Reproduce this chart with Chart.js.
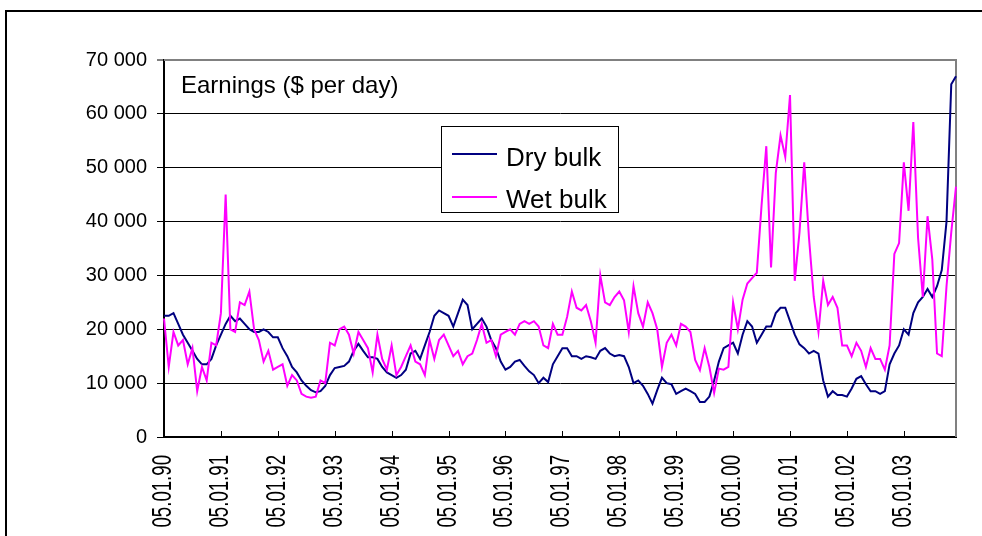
<!DOCTYPE html>
<html>
<head>
<meta charset="utf-8">
<script src="https://cdn.jsdelivr.net/npm/chart.js@4"></script>
<style>
  body { margin: 0; background: #fff; overflow: hidden; font-family: "Liberation Sans", Arial, sans-serif; }
  #wrap { position: relative; width: 982px; height: 536px; }
  #frame { position: absolute; left: 5px; top: 10px; width: 1100px; height: 700px; border-left: 2px solid #000; border-top: 2px solid #000; }
  #mycanvas { position: absolute; left: 0; top: 0; }
  .txt { position: absolute; white-space: nowrap; color: #000; }
  #legend { position: absolute; left: 441px; top: 126px; width: 176px; height: 85px; border: 1px solid #000; background: #fff; }
  .swatch { position: absolute; height: 2px; width: 45px; }
</style>
</head>
<body>
<div id="wrap">
  <div id="frame"></div>
  <canvas id="mycanvas" width="982" height="536"></canvas>
  <div class="txt" style="left:181px; top:73px; font-size:24px; line-height:24px;">Earnings ($ per day)</div>
  <div id="legend">
    <div class="swatch" style="left:10px; top:26px; background:#000080;"></div>
    <div class="txt" style="left:64px; top:17px; font-size:26px; line-height:26px;">Dry bulk</div>
    <div class="swatch" style="left:10px; top:69px; background:#ff00ff;"></div>
    <div class="txt" style="left:64px; top:59px; font-size:26px; line-height:26px;">Wet bulk</div>
  </div>
</div>
<script>
// Jahres-Beschriftung der x-Achse
var yearLabels = ['05.01.90', '05.01.91', '05.01.92', '05.01.93', '05.01.94', '05.01.95', '05.01.96',
                  '05.01.97', '05.01.98', '05.01.99', '05.01.00', '05.01.01', '05.01.02', '05.01.03'];

// Monatswerte, $ pro Tag
var dryBulk = [
    22500, 22500, 23000, 21000, 19000, 17500, 16000, 14500, 13500, 13500, 14500, 17000,
    19000, 21000, 22500, 21500, 22000, 21000, 20000, 19500, 19500, 20000, 19500, 18500,
    18500, 16500, 15000, 13000, 12000, 10500, 9500, 8700, 8300, 8500, 9500, 11500,
    12800, 13000, 13200, 14000, 16000, 17300, 16000, 14800, 14800, 14500, 13000, 12000,
    11500, 11000, 11500, 12500, 15500, 16000, 14500, 17000, 19500, 22500, 23500, 23000,
    22500, 20500, 23000, 25500, 24500, 20000, 21000, 22000, 20500, 18000, 16500, 14000,
    12500, 13000, 14000, 14300, 13200, 12200, 11500, 10000, 11000, 10200, 13500, 15000,
    16500, 16500, 15000, 15000, 14500, 15000, 14800, 14500, 16000, 16500, 15500, 15000,
    15200, 15000, 13000, 10000, 10500, 9500, 8000, 6200, 8700, 11000, 10000, 9800,
    8000, 8500, 9000, 8500, 8000, 6500, 6500, 7500, 10500, 14000, 16500, 17000,
    17500, 15500, 19000, 21500, 20500, 17500, 19000, 20500, 20500, 23000, 24000, 24000,
    21500, 19000, 17200, 16500, 15500, 16000, 15500, 10500, 7500, 8500, 7800, 7800,
    7500, 9000, 10800, 11300, 9800, 8500, 8500, 8000, 8500, 13500, 15500, 17000,
    20000, 19000, 23000, 25000, 26000, 27500, 26000, 28000, 31000, 40000, 65500, 67000
];

var wetBulk = [
    22000, 13000, 19500, 17000, 18000, 13500, 16500, 8500, 13000, 10500, 17500, 17000,
    23000, 45000, 20000, 19500, 25000, 24500, 27000, 20000, 18000, 14000, 16000, 12500,
    13000, 13500, 9500, 11500, 10500, 8000, 7500, 7300, 7500, 10500, 10000, 17500,
    17000, 20000, 20500, 19000, 15500, 19500, 18000, 16500, 12000, 19000, 14500, 12500,
    17000, 11500, 13000, 15000, 17000, 14000, 13500, 11500, 18000, 14500, 18000, 19000,
    17000, 15000, 16000, 13500, 15000, 15500, 18000, 21000, 17500, 18000, 15000, 19000,
    19500, 20000, 19000, 21000, 21500, 21000, 21500, 20500, 17000, 16500, 21000, 19000,
    19000, 22300, 27000, 24000, 23500, 24500, 21500, 17500, 30000, 25000, 24500, 26000,
    27000, 25400, 19500, 28000, 23000, 20500, 25000, 23000, 20000, 13000, 17500, 19000,
    17000, 21000, 20500, 19500, 14300, 12400, 16500, 13000, 8200, 12700, 12500, 13000,
    25000, 20000, 25500, 28500, 29500, 30500, 43000, 54000, 31500, 49000, 56000, 52000,
    63500, 29000, 38000, 51000, 37000, 26000, 19500, 29000, 24500, 26000, 24000, 17000,
    17000, 15000, 17500, 16000, 13000, 16500, 14500, 14500, 12500, 17000, 34000, 36000,
    51000, 42000, 58500, 37000, 26000, 41000, 33000, 15500, 15000, 28000, 38000, 46500
];

// Kategorien: ein Eintrag pro Monat
var categories = [];
for (var y = 0; y < yearLabels.length; y++) {
    for (var m = 1; m <= 12; m++) {
        categories.push('05.' + (m < 10 ? '0' + m : m) + '.' + yearLabels[y].slice(-2));
    }
}

// Rahmen, Teilstriche und gedrehte Jahreslabels selbst zeichnen
var excelLook = {
    id: 'excelLook',
    beforeDatasetsDraw: function (chart) {
        var a = chart.chartArea, ctx = chart.ctx;
        ctx.save();
        ctx.strokeStyle = '#808080';
        ctx.lineWidth = 2;
        ctx.beginPath();
        ctx.moveTo(a.left, a.top);
        ctx.lineTo(a.right, a.top);
        ctx.lineTo(a.right, a.bottom);
        ctx.stroke();
        ctx.restore();
    },
    afterDraw: function (chart) {
        var a = chart.chartArea, ctx = chart.ctx, xs = chart.scales.x;
        ctx.save();
        ctx.strokeStyle = '#000';
        ctx.lineWidth = 1;
        ctx.fillStyle = '#000';
        ctx.font = '27px "Liberation Sans", Arial, sans-serif';
        ctx.textAlign = 'right';
        ctx.textBaseline = 'middle';
        for (var j = 0; j < yearLabels.length; j++) {
            var x = Math.round(xs.getPixelForValue(j * 12)) + 0.5;
            ctx.beginPath();
            ctx.moveTo(x, a.bottom);
            ctx.lineTo(x, a.bottom - 6);
            ctx.stroke();

            ctx.save();
            ctx.translate(x - 1, 455);
            ctx.rotate(-Math.PI / 2);
            ctx.scale(0.69, 1);
            ctx.fillText(yearLabels[j], 0, 0);
            ctx.restore();
        }
        ctx.restore();
    }
};

var ctx = document.getElementById('mycanvas');

var chart = new Chart(ctx, {
    type: 'line',
    data: {
        labels: categories,
        datasets: [
            {
                label: 'Dry bulk',
                data: dryBulk,
                borderColor: '#000080',
                borderWidth: 2,
                pointRadius: 0,
                tension: 0,
                order: 1
            },
            {
                label: 'Wet bulk',
                data: wetBulk,
                borderColor: '#ff00ff',
                borderWidth: 2,
                pointRadius: 0,
                tension: 0,
                order: 0
            }
        ]
    },
    options: {
        responsive: false,
        animation: false,
        devicePixelRatio: 1,
        layout: { padding: { left: 0, right: 26, top: 60, bottom: 0 } },
        plugins: {
            legend: { display: false },
            tooltip: { enabled: false }
        },
        scales: {
            x: {
                type: 'category',
                offset: false,
                grid: { display: false },
                border: { display: true, color: '#000', width: 2 },
                ticks: { display: false },
                afterFit: function (scale) { scale.height = 99; }
            },
            y: {
                min: 0,
                max: 70000,
                ticks: {
                    stepSize: 10000,
                    color: '#000',
                    padding: 10,
                    font: { family: '"Liberation Sans", Arial, sans-serif', size: 20 },
                    callback: function (v) { return v === 0 ? '0' : (v / 1000) + ' 000'; }
                },
                grid: {
                    color: function (c) { return c.tick && c.tick.value === 70000 ? '#808080' : '#000'; },
                    lineWidth: function (c) { return c.tick && c.tick.value === 70000 ? 2 : 1; },
                    tickLength: 7
                },
                border: { display: true, color: '#000', width: 2 },
                afterFit: function (scale) { scale.width = 164; }
            }
        }
    },
    plugins: [excelLook]
});
</script>
</body>
</html>
